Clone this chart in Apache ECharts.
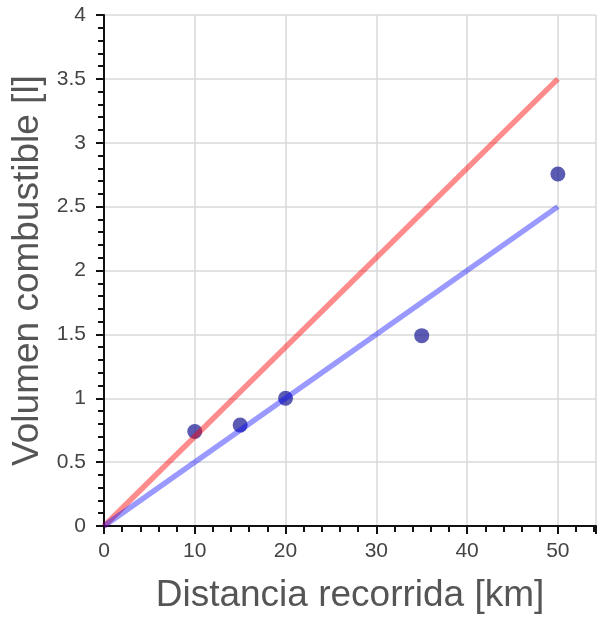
<!DOCTYPE html>
<html><head><meta charset="utf-8">
<script src="https://cdn.jsdelivr.net/npm/echarts@6/dist/echarts.min.js"></script>
<style>html,body{margin:0;padding:0;background:#fff}#c{width:599px;height:619px}</style>
</head><body><div id="c"></div>
<script>
const distances = [10, 15, 20, 35, 50];
const volumes = [0.74, 0.79, 1.0, 1.49, 2.755];
const redLine = [[0, 0], [50, 3.5]];
const blueLine = [[0, 0], [50, 2.5]];
const xTitle = 'Distancia recorrida [km]';
const yTitle = 'Volumen combustible [l]';

const chart = echarts.init(document.getElementById('c'), null, {renderer: 'canvas'});
const font = '"Liberation Sans", Arial, sans-serif';
chart.setOption({
  animation: false,
  grid: {left: 104, top: 15, right: 0, bottom: 93},
  xAxis: {
    type: 'value', min: 0, max: 54.2, interval: 10,
    name: xTitle, nameLocation: 'middle', nameGap: 51,
    nameTextStyle: {fontSize: 37, color: '#555', fontFamily: font},
    axisLine: {show: true, onZero: false, lineStyle: {color: '#111', width: 2}},
    axisTick: {show: true, length: 8, lineStyle: {color: '#111', width: 2}},
    minorTick: {show: true, splitNumber: 5, length: 6, lineStyle: {color: '#111', width: 2}},
    axisLabel: {fontSize: 21, color: '#444', margin: 15, fontFamily: font,
      formatter: v => (v > 54 ? '' : v)},
    splitLine: {show: true, lineStyle: {color: '#d9d9d9', width: 1.5}}
  },
  yAxis: {
    type: 'value', min: 0, max: 4, interval: 0.5,
    name: yTitle, nameLocation: 'middle', nameGap: 57,
    nameTextStyle: {fontSize: 37, color: '#555', fontFamily: font},
    axisLine: {show: true, onZero: false, lineStyle: {color: '#111', width: 2}},
    axisTick: {show: true, length: 8, lineStyle: {color: '#111', width: 2}},
    minorTick: {show: true, splitNumber: 5, length: 6, lineStyle: {color: '#111', width: 2}},
    axisLabel: {fontSize: 21, color: '#444', margin: 18, fontFamily: font},
    splitLine: {show: true, lineStyle: {color: '#d9d9d9', width: 1.5}}
  },
  series: [
    {type: 'line', data: redLine, symbol: 'none', lineStyle: {color: 'rgba(255,0,0,0.45)', width: 5.5}},
    {type: 'line', data: blueLine, symbol: 'none', lineStyle: {color: 'rgba(0,0,255,0.4)', width: 5.5}},
    {type: 'scatter', data: distances.map((d, i) => [d, volumes[i]]), symbol: 'circle', symbolSize: 15,
     itemStyle: {color: 'rgba(28,28,150,0.9)'}}
  ]
});
</script></body></html>
